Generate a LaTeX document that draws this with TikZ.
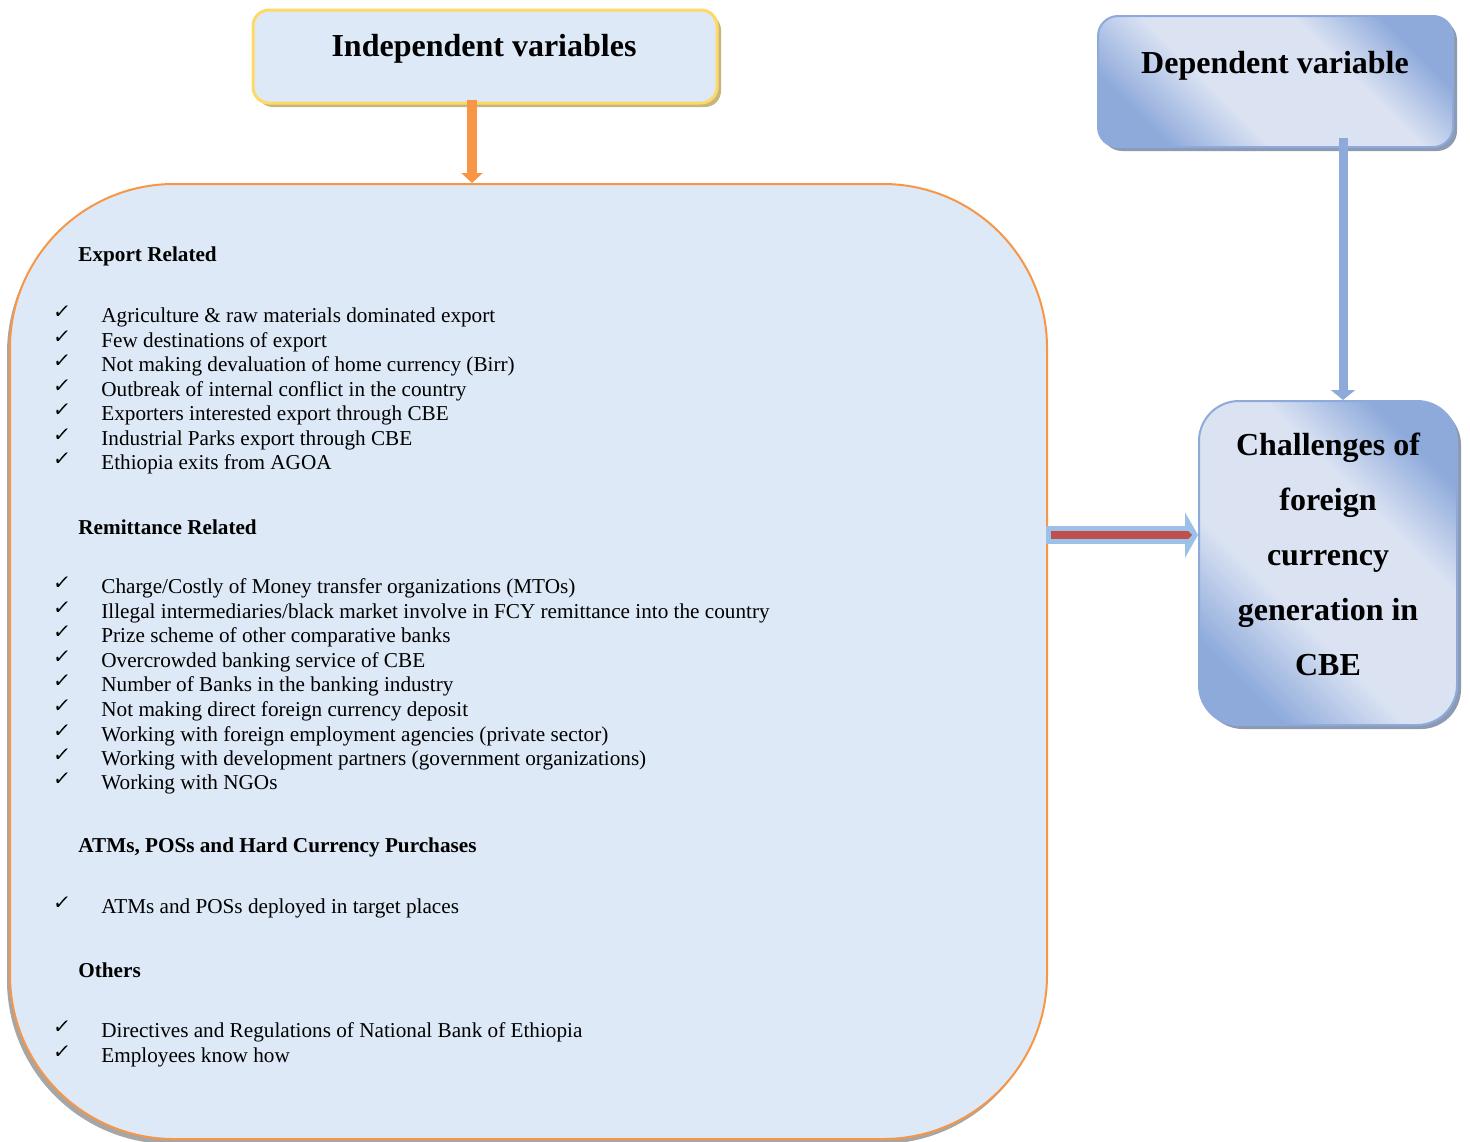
\documentclass[tikz,border=0pt]{standalone}
\usepackage{fontspec}
\setmainfont{Liberation Serif}
\newfontfamily\symfont{DejaVu Sans}
\usetikzlibrary{arrows.meta,shadows,calc}
\definecolor{boxfill}{RGB}{221,233,246}
\definecolor{orangeln}{RGB}{247,150,70}
\definecolor{yellowln}{RGB}{255,217,102}
\definecolor{tanshadow}{RGB}{196,182,125}
\definecolor{bdark}{RGB}{142,170,219}
\definecolor{blight}{RGB}{219,227,243}
\definecolor{bshadow}{RGB}{140,154,178}
\definecolor{arrowblue}{RGB}{155,194,230}
\definecolor{redln}{RGB}{192,80,77}
\pgfdeclarehorizontalshading{bluemid}{100bp}{color(0bp)=(bdark); color(25bp)=(bdark); color(40bp)=(blight); color(62bp)=(blight); color(75bp)=(bdark); color(100bp)=(bdark)}
\tikzset{
  bigbox/.style={draw=orangeln, line width=1pt, fill=boxfill, rounded corners=82pt,
    drop shadow={shadow xshift=-1.5pt, shadow yshift=-2.5pt, fill=black!35, opacity=1}},
  indepbox/.style={draw=yellowln, line width=1.5pt, fill=boxfill, rounded corners=8pt,
    drop shadow={shadow xshift=2pt, shadow yshift=-2pt, fill=tanshadow, opacity=1}},
  blueboxstyle/.style={draw=bdark, line width=1pt, shading=bluemid, shading angle=45,
    drop shadow={shadow xshift=2pt, shadow yshift=-2pt, fill=bshadow, opacity=1}},
  titletext/.style={font=\fontsize{16}{19}\selectfont\bfseries, inner sep=0pt},
  headtext/.style={anchor=west, font=\fontsize{10.6}{12}\selectfont\bfseries, inner sep=0pt},
  itemtext/.style={anchor=west, font=\fontsize{10.6}{12}\selectfont, inner sep=0pt},
  checkmk/.style={font=\symfont\fontsize{10}{12}\selectfont, inner sep=0pt, xslant=0.15},
}
\begin{document}
\begin{tikzpicture}[x=0.5pt,y=-0.5pt]
\useasboundingbox (0,0) rectangle (1470,1141);

% boxes
\node[bigbox, minimum width=518.5pt, minimum height=477.5pt] (big) at (528.5,661.5) {};
\node[indepbox, minimum width=232pt, minimum height=46.5pt] (indep) at (485,56.5) {};
\node[titletext] (indeptxt) at (484,49) {Independent variables};
\node[blueboxstyle, rounded corners=10pt, minimum width=177.5pt, minimum height=65.5pt] (dep) at (1275.5,81.5) {};
\node[titletext] (deptxt) at (1275,66) {Dependent variable};
\node[blueboxstyle, rounded corners=20pt, minimum width=129pt, minimum height=162pt] (right) at (1328,563) {};
\node[titletext, align=center, font=\fontsize{16}{27.5}\selectfont\bfseries] (righttxt) at (1328,554)
  {Challenges of\\foreign\\currency\\generation in\\CBE};

% connectors
\coordinate (oa) at ([xshift=-6.5pt,yshift=2.5pt]indep.south);
\draw[orangeln, line width=5pt, -{Triangle[width=10.5pt,length=5pt]}] (oa) -- (oa |- big.north);
\coordinate (ba) at ([xshift=33.75pt,yshift=5pt]dep.south);
\draw[bdark, line width=4.5pt, -{Triangle[width=12pt,length=5pt]}] (ba) -- (ba |- right.north);
\coordinate (ha) at ([xshift=-1pt,yshift=63.25pt]big.east);
\draw[arrowblue, line width=9pt, -{Triangle[width=22.5pt,length=6.5pt]}] (ha) -- (ha -| right.west);
\coordinate (hr) at ([xshift=2.5pt]ha);
\draw[redln, line width=4pt, -{Triangle[width=4pt,length=2pt]}, shorten >=3pt] (hr) -- (hr -| right.west);

% headings
\node[headtext] (h1) at (78,256) {Export Related};
\node[headtext] (h2) at (78,527) {Remittance Related};
\node[headtext] (h3) at (78,847) {ATMs, POSs and Hard Currency Purchases};
\node[headtext] (h4) at (78,970) {Others};

% items
\foreach \y/\t in {
 315/{Agriculture \& raw materials dominated export},
 340/{Few destinations of export},
 364/{Not making devaluation of home currency (Birr)},
 389/{Outbreak of internal conflict in the country},
 413/{Exporters interested export through CBE},
 438/{Industrial Parks export through CBE},
 462/{Ethiopia exits from AGOA},
 586/{Charge/Costly of Money transfer organizations (MTOs)},
 611/{Illegal intermediaries/black market involve in FCY remittance into the country},
 635/{Prize scheme of other comparative banks},
 660/{Overcrowded banking service of CBE},
 684/{Number of Banks in the banking industry},
 709/{Not making direct foreign currency deposit},
 734/{Working with foreign employment agencies (private sector)},
 758/{Working with development partners (government organizations)},
 782/{Working with NGOs},
 906/{ATMs and POSs deployed in target places},
 1030/{Directives and Regulations of National Bank of Ethiopia},
 1055/{Employees know how}}
{
  \node[checkmk] (c\y) at (62,\y-3) {✓};
  \node[itemtext] (t\y) at (101,\y+3) {\strut\t};
}
\end{tikzpicture}
\end{document}
